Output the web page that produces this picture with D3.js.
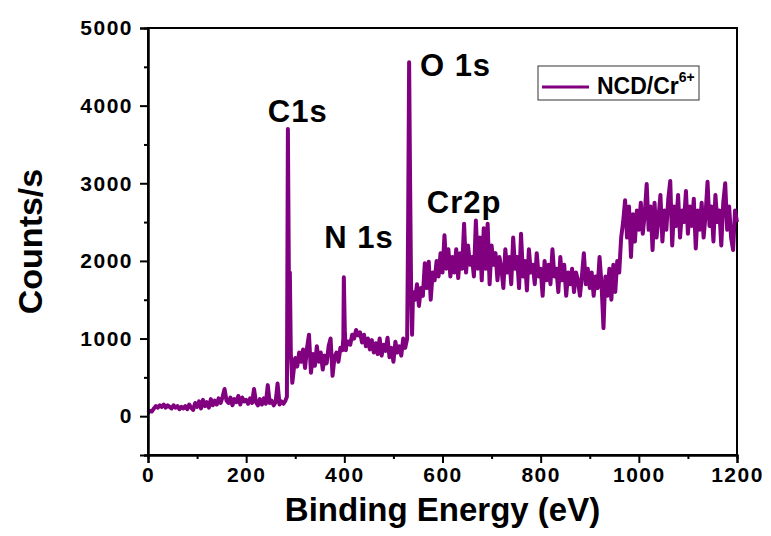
<!DOCTYPE html>
<html>
<head>
<meta charset="utf-8">
<script src="https://cdn.jsdelivr.net/npm/d3@7"></script>
<style>
  body { margin: 0; background: #fff; }
  text { font-family: "Liberation Sans", Arial, sans-serif; font-weight: bold; fill: #000; }
</style>
</head>
<body>
<div id="chart"></div>
<script>
// XPS survey, [binding energy (eV), counts/s]
var lowBand = [[0,40],[4,70],[8,60],[12,100],[16,130],[20,110],[24,140],[28,120],[32,150],[36,110],[40,140],[44,120],[48,100],[52,140],[56,110],[60,130],[64,90],[68,120],[72,100],[76,130],[80,90],[84,150],[88,110],[92,80],[96,170],[100,120],[104,190],[108,100],[112,210],[116,130],[120,180],[124,110],[128,220],[132,140],[136,200],[140,150],[144,230],[148,170],[152,250],[156,350],[160,200],[164,170],[168,240],[172,140],[176,220],[180,180],[184,260],[188,150],[192,240],[196,190],[200,210],[204,160],[208,230],[212,170],[216,350],[220,180],[224,140],[228,220],[232,150],[236,230],[240,160],[244,400],[248,170],[252,200],[256,140],[260,180],[264,420],[268,150],[272,190],[276,160],[280,200]];
var c1sPeak = [[283,250],[285,3700],[287,1800],[289,1850],[291,800],[294,430],[297,600]];
var midBand = [[300,750],[304,640],[308,820],[312,700],[316,860],[320,620],[324,880],[328,1050],[332,560],[336,800],[340,650],[344,900],[348,700],[352,820],[356,600],[360,780],[364,680],[368,900],[372,1000],[376,520],[380,760],[384,820],[388,700],[392,880],[396,850]];
var n1sPeak = [[398,1000],[399,1790],[401,1100],[403,850]];
var midBand2 = [[404,900],[408,960],[412,920],[416,1050],[420,1000],[424,1110],[428,1040],[432,1080],[436,950],[440,1050],[444,900],[448,1000],[452,860],[456,980],[460,820],[464,940],[468,800],[472,1000],[476,780],[480,920],[484,840],[488,1010],[492,760],[496,880],[500,700],[504,960],[508,820],[512,900],[516,780],[520,1000],[524,880],[528,1000]];
var o1sPeak = [[530,2500],[532,4560],[534,3000],[536,1660],[538,1050]];
var crBand = [[540,1600],[544,1500],[548,1700],[552,1420],[556,1650],[560,1550],[564,1970],[568,1650],[572,1990],[576,1500],[580,1850],[584,1750],[588,2000],[592,1800],[596,2100],[600,1850],[604,2330],[608,1900],[612,2150],[616,1800],[620,2050],[624,1850],[628,2150],[632,1780],[636,2100],[640,1900],[644,2480],[648,1850],[652,2200],[656,1950],[660,2050],[664,1800],[668,2520],[672,1900],[676,2300],[680,1750],[684,2420],[688,1900],[692,2480],[696,1700],[700,2200],[704,1950],[708,2100],[712,1750],[716,2050],[720,1900],[724,1650],[728,2150],[732,1850],[736,2050],[740,1700],[744,2300],[748,1900],[752,2050],[756,1650],[760,2350],[764,1800],[768,2000],[772,1620],[776,2150],[780,1850],[784,1950],[788,1700],[792,2100],[796,1800],[800,1900],[804,1550],[808,2000],[812,1750],[816,1950],[820,1700],[824,2150],[828,1800],[832,1900],[836,1600],[840,2050],[844,1750],[848,1950],[852,1550],[856,1850],[860,1700],[864,1900],[868,1600],[872,1850],[876,1750],[880,1550],[884,1800],[888,2100],[892,1700],[896,1900],[900,1650],[904,1850],[908,1550],[912,1800],[916,1650],[920,2050],[924,1700],[928,1135],[930,1500],[932,1800],[936,1550],[940,1900],[944,1500],[948,1950],[952,1600],[956,2000],[960,1850],[964,2300]];
var highBand = [[968,2500],[972,2780],[976,2300],[980,2700],[984,2050],[988,2600],[992,2250],[996,2650],[1000,2400],[1004,2750],[1008,2350],[1012,2600],[1016,2990],[1020,2400],[1024,2700],[1028,2140],[1032,2750],[1036,2300],[1040,2550],[1044,2850],[1048,2250],[1052,2650],[1056,2400],[1060,2800],[1064,3030],[1068,2200],[1072,2700],[1076,2450],[1080,2850],[1084,2300],[1088,2650],[1092,2500],[1096,2900],[1100,2350],[1104,2700],[1108,2450],[1112,2800],[1116,2160],[1120,2650],[1124,2400],[1128,2750],[1132,2300],[1136,2600],[1140,3020],[1144,2450],[1148,2700],[1152,2250],[1156,2850],[1160,2500],[1164,2650],[1168,2200],[1172,2750],[1176,3000],[1180,2400],[1184,2700],[1188,2300],[1192,2140],[1196,2650],[1200,2500]];

var xTicks = [0, 200, 400, 600, 800, 1000, 1200];
var yTicks = [0, 1000, 2000, 3000, 4000, 5000];
var peakLabels = [
  {text: "C1s", x: 244, y: 3790},
  {text: "O 1s", x: 554, y: 4380},
  {text: "N 1s", x: 359, y: 2170},
  {text: "Cr2p", x: 568, y: 2620}
];
var seriesName = "NCD/Cr";
var seriesSup = "6+";

var width = 771, height = 536;
var margin = {top: 28, right: 34, bottom: 81, left: 148};
var purple = "#800080";

var spectrum = [].concat(lowBand, c1sPeak, midBand, n1sPeak, midBand2, o1sPeak, crBand, highBand);

var svg = d3.select("#chart").append("svg")
  .attr("width", width)
  .attr("height", height);

var x = d3.scaleLinear().domain([0, 1200]).range([margin.left, width - margin.right]);
var y = d3.scaleLinear().domain([-500, 5000]).range([height - margin.bottom, margin.top]);

// frame
svg.append("rect")
  .attr("x", x(0)).attr("y", y(5000))
  .attr("width", x(1200) - x(0)).attr("height", y(-500) - y(5000))
  .attr("fill", "none").attr("stroke", "#000").attr("stroke-width", 2);

// spectrum
svg.append("path")
  .datum(spectrum)
  .attr("fill", "none")
  .attr("stroke", purple)
  .attr("stroke-width", 4)
  .attr("stroke-linejoin", "round")
  .attr("d", d3.line().x(function(d) { return x(d[0]); }).y(function(d) { return y(d[1]); }));

// bottom axis, major + minor
var xAxisG = svg.append("g").attr("transform", "translate(0," + y(-500) + ")");
xAxisG.call(d3.axisBottom(x).tickValues(d3.range(100, 1200, 200)).tickSize(4).tickFormat(""));
xAxisG.append("g").call(d3.axisBottom(x).tickValues(xTicks).tickSize(8).tickPadding(4).tickFormat(d3.format("d")));
// left axis, major + minor
var yAxisG = svg.append("g").attr("transform", "translate(" + x(0) + ",0)");
yAxisG.call(d3.axisLeft(y).tickValues(d3.range(-500, 5000, 1000)).tickSize(4).tickFormat(""));
yAxisG.append("g").call(d3.axisLeft(y).tickValues(yTicks).tickSize(8).tickPadding(7).tickFormat(d3.format("d")));

svg.selectAll(".domain").attr("stroke-width", 2);
svg.selectAll(".tick line").attr("stroke-width", 2);
svg.selectAll(".tick text")
  .attr("font-size", 21)
  .attr("letter-spacing", "1.5px")
  .attr("font-family", "Liberation Sans, Arial, sans-serif")
  .attr("font-weight", "bold")
  .attr("fill", "#000");

// axis titles
svg.append("text")
  .attr("x", (x(0) + x(1200)) / 2).attr("y", 521)
  .attr("text-anchor", "middle")
  .attr("font-size", 33)
  .text("Binding Energy (eV)");

svg.append("text")
  .attr("transform", "translate(42," + y(2250) + ") rotate(-90)")
  .attr("text-anchor", "middle")
  .attr("font-size", 34)
  .text("Counts/s");

// peak labels
svg.selectAll(".peak")
  .data(peakLabels)
  .enter().append("text")
  .attr("class", "peak")
  .attr("x", function(d) { return x(d.x); })
  .attr("y", function(d) { return y(d.y); })
  .attr("font-size", 31)
  .attr("letter-spacing", "1px")
  .text(function(d) { return d.text; });

// legend
var lg = svg.append("g").attr("transform", "translate(538,66)");
lg.append("rect")
  .attr("width", 161).attr("height", 34)
  .attr("fill", "#fff").attr("stroke", "#333").attr("stroke-width", 1);
lg.append("line")
  .attr("x1", 4).attr("x2", 51).attr("y1", 21).attr("y2", 21)
  .attr("stroke", purple).attr("stroke-width", 3);
var lt = lg.append("text").attr("x", 59).attr("y", 28).attr("font-size", 23);
lt.append("tspan").text(seriesName);
lt.append("tspan").attr("font-size", 14).attr("dy", -12).text(seriesSup);
</script>
</body>
</html>
